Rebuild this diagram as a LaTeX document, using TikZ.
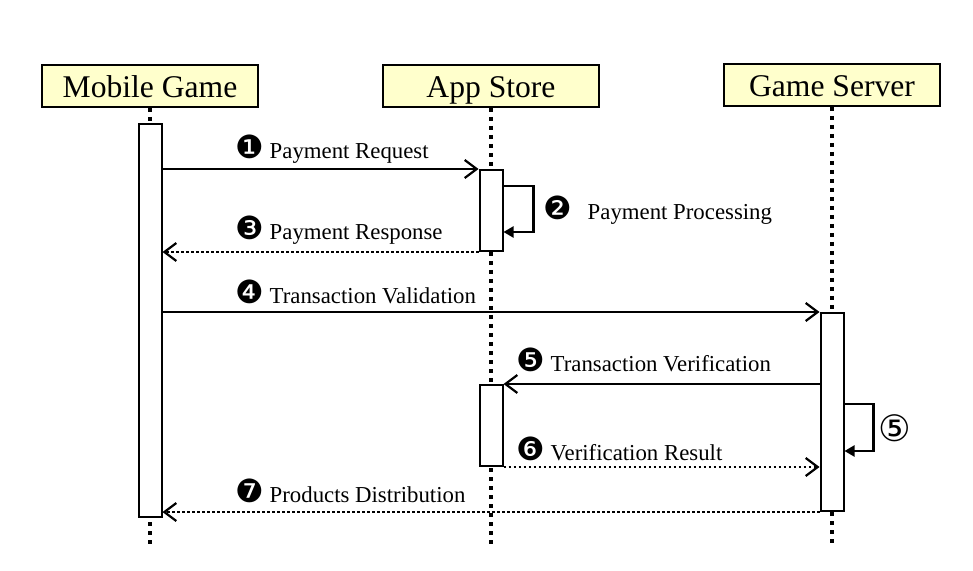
\documentclass[tikz,border=0pt]{standalone}
\usepackage{fontspec}
\setmainfont{Liberation Serif}
\newfontfamily\symfont[Scale=1.4]{DejaVu Sans}
\usetikzlibrary{arrows.meta, positioning}
\definecolor{actorfill}{HTML}{FFFFCC}

\begin{document}
\begin{tikzpicture}[
    x=0.5pt, y=-0.5pt,
    actor/.style={
        draw, line width=1pt, fill=actorfill,
        minimum width=108pt, minimum height=21pt,
        text height=12pt, text depth=0pt,
        inner sep=0pt, font=\fontsize{15.8}{18}\selectfont
    },
    bar/.style={draw, line width=1pt, fill=white, minimum width=11.5pt, inner sep=0pt},
    lifeline/.style={line width=2pt, dash pattern=on 2pt off 2.5pt},
    msg/.style={line width=1.1pt, -{Straight Barb[length=6pt, width=9pt, line width=1.1pt]}},
    reply/.style={msg, line width=1.3pt, dash pattern=on 1.3pt off 1.2pt},
    selfmsg/.style={line width=1.1pt, -{Triangle[length=5pt, width=5.5pt]}},
    lbl/.style={anchor=west, inner sep=0pt, font=\fontsize{11.4}{13}\selectfont}
]

\useasboundingbox (0,0) rectangle (973,571);

% -- participants --
\node[actor] (mg) at (150,86) {Mobile Game};
\node[actor] (as) at (491,86) {App Store};
\node[actor] (gs) at (832,85) {Game Server};

% -- lifelines --
\coordinate (bottom) at (0,545);
\draw[lifeline] (mg.south) -- (mg.south |- bottom);
\draw[lifeline] (as.south) -- (as.south |- bottom);
\draw[lifeline] (gs.south) -- (gs.south |- bottom);

% -- activation bars --
\node[bar, minimum height=196.5pt] (mgbar) at (150,320.5) {};
\node[bar, minimum height=40.5pt] (asbar1) at (491,210.5) {};
\node[bar, minimum height=40.5pt] (asbar2) at (491,425.5) {};
\node[bar, minimum height=99pt] (gsbar) at (832,412) {};

% -- payment --
\draw[msg] (mgbar.east |- asbar1.north west) -- (asbar1.north west);
\node[lbl] (l1) at (235,149) {{\symfont ❶} Payment Request};

\draw[selfmsg] ([yshift=12.25pt]asbar1.east) -- ++(30,0) |- ([yshift=-10.75pt]asbar1.east);
\node[lbl] (l2) at (543,210) {{\symfont ❷}\hspace{5pt} Payment Processing};

\draw[reply] (asbar1.south west) -- (mgbar.east |- asbar1.south west);
\node[lbl] (l3) at (235,230) {{\symfont ❸} Payment Response};

% -- validation --
\draw[msg] (mgbar.east |- gsbar.north west) -- (gsbar.north west);
\node[lbl] (l4) at (235,292) {{\symfont ❹} Transaction Validation};

\draw[msg] (gsbar.west |- asbar2.north east) -- (asbar2.north east);
\node[lbl] (l5) at (516,360) {{\symfont ❺} Transaction Verification};

\draw[selfmsg] ([yshift=4pt]gsbar.east) -- ++(29,0) |- ([yshift=-19.5pt]gsbar.east);
\node[font=\fontsize{13}{16}\selectfont\symfont, inner sep=0pt] (l5b) at (895,428) {⑤};

\draw[reply] (asbar2.south east) -- (gsbar.west |- asbar2.south east);
\node[lbl] (l6) at (516,449) {{\symfont ❻} Verification Result};

% -- distribution --
\draw[reply] (gsbar.south west) -- (mgbar.east |- gsbar.south west);
\node[lbl] (l7) at (235,491) {{\symfont ❼} Products Distribution};

\end{tikzpicture}
\end{document}
